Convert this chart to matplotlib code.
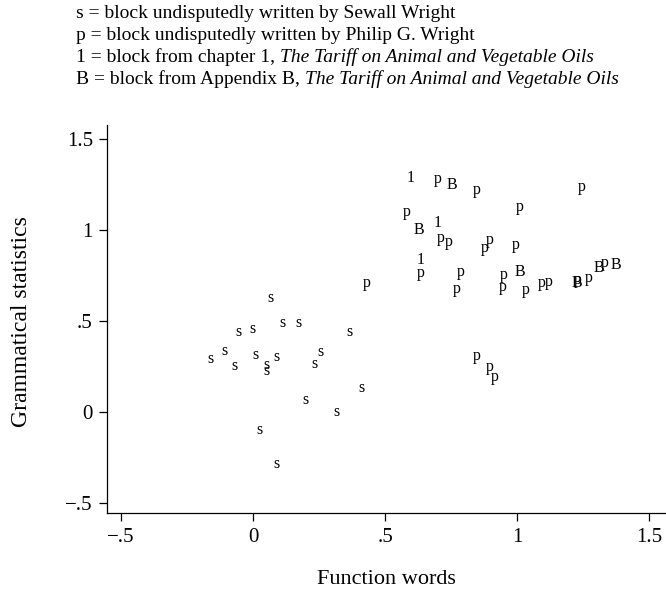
import matplotlib
matplotlib.use("Agg")
import matplotlib.pyplot as plt

FONT = "Liberation Serif"
plt.rcParams['font.family'] = [FONT, 'DejaVu Serif']

# ---- data ----
s_x = [0.064, -0.054, -0.001, 0.110, 0.173, 0.365, -0.163, -0.110, -0.072, 0.008,
       0.049, 0.049, 0.088, 0.254, 0.234, 0.410, 0.198, 0.317, 0.025, 0.090]
s_y = [0.625, 0.438, 0.456, 0.487, 0.487, 0.438, 0.290, 0.337, 0.254, 0.313,
       0.258, 0.225, 0.301, 0.331, 0.262, 0.134, 0.066, 0.002, -0.099, -0.286]

p_x = [0.698, 0.847, 1.245, 1.009, 0.582, 0.711, 0.742, 0.879, 0.895, 0.995,
       0.633, 0.788, 0.772, 0.951, 0.946, 1.034, 1.094, 1.121, 1.231, 1.270,
       1.330, 0.431, 0.847, 0.895, 0.917]
p_y = [1.280, 1.220, 1.238, 1.128, 1.097, 0.958, 0.936, 0.899, 0.945, 0.918,
       0.762, 0.768, 0.674, 0.753, 0.688, 0.670, 0.710, 0.716, 0.725, 0.734,
       0.819, 0.707, 0.309, 0.249, 0.194]

b_x = [0.751, 0.629, 1.011, 1.228, 1.309, 1.375]
b_y = [1.247, 0.998, 0.771, 0.710, 0.790, 0.808]

one_x = [0.595, 0.700, 0.633]
one_y = [1.287, 1.037, 0.835]

groups = [("s", s_x, s_y), ("p", p_x, p_y), ("B", b_x, b_y), ("1", one_x, one_y)]

tick_vals = [-0.5, 0, 0.5, 1, 1.5]
tick_labels = ["\u2212.5", "0", ".5", "1", "1.5"]

legend_lines = [
    ("s = block undisputedly written by Sewall Wright", None),
    ("p = block undisputedly written by Philip G. Wright", None),
    ("1 = block from chapter 1,", "The Tariff on Animal and Vegetable Oils"),
    ("B = block from Appendix B,", "The Tariff on Animal and Vegetable Oils"),
]

W, H = 666, 592
fig = plt.figure(figsize=(W / 100, H / 100), dpi=100)
ax = fig.add_axes([106.7 / W, 79 / H, (W - 106.7) / W, (513 - 125) / H])

for label, xs, ys in groups:
    for x, y in zip(xs, ys):
        ax.text(x, y, label, ha="center", va="center", fontsize=11.5, color="black")

ax.set_xlim(-0.555, 1.564)
ax.set_ylim(-0.555, 1.577)
ax.set_xticks(tick_vals)
ax.set_xticklabels(tick_labels)
ax.set_yticks(tick_vals)
ax.set_yticklabels(tick_labels)
ax.tick_params(direction="out", length=6, width=0.9, labelsize=15, pad=5, colors="black")
ax.tick_params(axis="y", pad=4)
for side in ("top", "right"):
    ax.spines[side].set_visible(False)
for side in ("left", "bottom"):
    ax.spines[side].set_linewidth(0.9)

fig.text(386 / W, 1 - 580 / H, "Function words", ha="center", va="center", fontsize=16)
fig.text(22 / W, 1 - 322 / H, "Grammatical statistics", ha="center", va="center",
         fontsize=17, rotation=90)

renderer = fig.canvas.get_renderer()
baselines = [18, 40, 62, 84]
lfs = 14
for (reg, ital), yb in zip(legend_lines, baselines):
    t = fig.text(76 / W, 1 - yb / H, reg, ha="left", va="baseline", fontsize=lfs)
    if ital:
        bb = t.get_window_extent(renderer)
        xpix = bb.x1 + 0.27 * lfs * 100 / 72
        fig.text(xpix / W, 1 - yb / H, ital, ha="left", va="baseline", fontsize=lfs,
                 style="italic")

fig.savefig("out.png", dpi=100)
